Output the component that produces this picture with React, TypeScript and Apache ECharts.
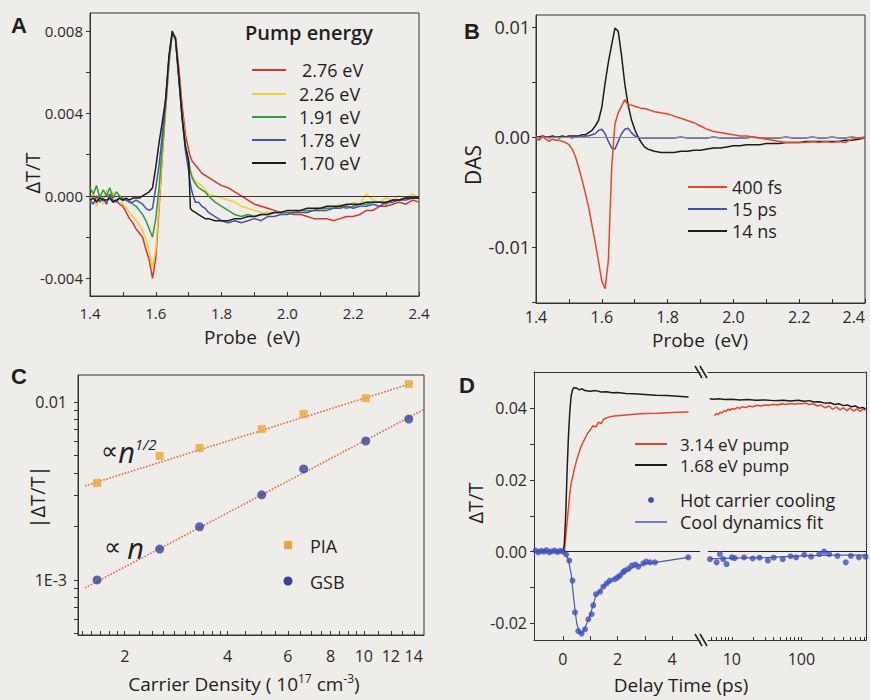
import React, { useEffect, useRef } from "react";
import * as echarts from "echarts";

const FONT = "'Open Sans', 'DejaVu Sans', sans-serif";
const AX = "#333";
const LBL = "#2a2a2a";

// ---------- Panel A ----------
const probeA = [1.40,1.41,1.42,1.43,1.44,1.45,1.46,1.47,1.48,1.49,1.50,1.51,1.52,1.53,1.54,1.55,1.56,1.57,1.58,1.59,1.60,1.61,1.62,1.63,1.64,1.65,1.66,1.67,1.68,1.69,1.70,1.705,1.71,1.72,1.73,1.74,1.75,1.76,1.78,1.80,1.82,1.84,1.86,1.88,1.90,1.92,1.94,1.96,1.98,2.00,2.02,2.04,2.06,2.08,2.10,2.12,2.14,2.16,2.18,2.20,2.22,2.24,2.26,2.28,2.30,2.32,2.34,2.36,2.38,2.40];
const pump276 = [-0.0002,0.0001,-0.0003,0.0000,-0.0002,0.0001,-0.0001,-0.0003,-0.0002,-0.0004,-0.0005,-0.0008,-0.0011,-0.0013,-0.0016,-0.0018,-0.0020,-0.0026,-0.0031,-0.0040,-0.0030,-0.0006,0.0020,0.0042,0.0064,0.0079,0.0077,0.0062,0.0044,0.0030,0.0022,0.0019,0.0017,0.0015,0.0013,0.0011,0.0010,0.0009,0.0007,0.0005,0.0004,0.0002,0.0000,-0.0002,-0.0004,-0.0005,-0.0006,-0.0007,-0.0008,-0.0008,-0.0009,-0.0009,-0.0010,-0.0011,-0.0011,-0.0011,-0.0012,-0.0011,-0.0010,-0.0010,-0.0009,-0.0007,-0.0007,-0.0005,-0.0005,-0.0004,-0.0003,-0.0004,-0.0002,-0.0003];
const pump226 = [-0.0003,0.0002,-0.0005,0.0001,-0.0004,0.0003,-0.0002,0.0002,-0.0003,0.0000,-0.0004,-0.0006,-0.0008,-0.0010,-0.0012,-0.0014,-0.0017,-0.0021,-0.0027,-0.0035,-0.0026,-0.0004,0.0022,0.0043,0.0065,0.0079,0.0076,0.0058,0.0040,0.0026,0.0017,0.0013,0.0010,0.0007,0.0006,0.0005,0.0003,0.0001,0.0000,-0.0001,-0.0002,-0.0003,-0.0005,-0.0006,-0.0007,-0.0008,-0.0008,-0.0008,-0.0008,-0.0008,-0.0008,-0.0007,-0.0008,-0.0007,-0.0007,-0.0006,-0.0006,-0.0004,-0.0005,-0.0003,-0.0004,0.0001,-0.0002,-0.0003,-0.0001,-0.0002,0.0000,-0.0001,0.0001,-0.0001];
const pump191 = [0.0004,0.0001,0.0005,-0.0001,0.0003,0.0000,0.0004,-0.0001,0.0002,0.0000,-0.0001,-0.0002,-0.0003,-0.0004,-0.0005,-0.0007,-0.0009,-0.0012,-0.0016,-0.0020,-0.0011,0.0004,0.0025,0.0044,0.0066,0.0079,0.0076,0.0057,0.0038,0.0024,0.0016,0.0012,0.0009,0.0006,0.0004,0.0003,0.0002,0.0000,-0.0003,-0.0005,-0.0007,-0.0009,-0.0010,-0.0009,-0.0010,-0.0009,-0.0009,-0.0008,-0.0008,-0.0008,-0.0008,-0.0007,-0.0007,-0.0007,-0.0006,-0.0006,-0.0006,-0.0005,-0.0006,-0.0005,-0.0004,-0.0004,-0.0003,-0.0003,-0.0004,-0.0002,-0.0002,-0.0001,-0.0001,-0.0001];
const pump178 = [-0.0002,-0.0004,0.0000,-0.0003,-0.0001,-0.0004,0.0001,-0.0002,-0.0003,-0.0001,-0.0002,-0.0002,-0.0003,-0.0003,-0.0002,-0.0003,-0.0004,-0.0006,-0.0007,-0.0006,0.0004,0.0015,0.0030,0.0047,0.0067,0.0079,0.0076,0.0057,0.0038,0.0022,0.0012,0.0006,0.0002,-0.0003,-0.0003,-0.0005,-0.0006,-0.0008,-0.0010,-0.0012,-0.0013,-0.0012,-0.0013,-0.0012,-0.0011,-0.0012,-0.0010,-0.0010,-0.0009,-0.0009,-0.0008,-0.0008,-0.0008,-0.0007,-0.0007,-0.0007,-0.0006,-0.0006,-0.0005,-0.0006,-0.0005,-0.0005,-0.0004,-0.0005,-0.0003,-0.0003,-0.0002,-0.0002,-0.0001,-0.0001];
const pump170 = [-0.0002,-0.0001,-0.0003,-0.0001,-0.0002,-0.0002,-0.0001,-0.0003,-0.0002,-0.0001,-0.0002,-0.0001,-0.0002,-0.0001,-0.0001,-0.0001,0.0000,0.0001,0.0002,0.0004,0.0014,0.0026,0.0036,0.0047,0.0068,0.0080,0.0076,0.0058,0.0038,0.0024,0.0017,-0.0006,-0.0007,-0.0008,-0.0009,-0.0010,-0.0011,-0.0011,-0.0012,-0.0012,-0.0012,-0.0011,-0.0011,-0.0010,-0.0010,-0.0009,-0.0009,-0.0008,-0.0008,-0.0007,-0.0007,-0.0007,-0.0006,-0.0006,-0.0006,-0.0005,-0.0005,-0.0005,-0.0004,-0.0004,-0.0004,-0.0003,-0.0003,-0.0003,-0.0003,-0.0002,-0.0002,-0.0001,-0.0001,-0.0001];
const pumpNames = ["2.76 eV", "2.26 eV", "1.91 eV", "1.78 eV", "1.70 eV"];
const pumpColors = ["#e3302a", "#f2cf2e", "#2f9a3e", "#4552b4", "#1c1c1c"];

// ---------- Panel B ----------
const probeB = [1.40,1.41,1.42,1.43,1.44,1.45,1.46,1.47,1.48,1.49,1.50,1.51,1.52,1.53,1.54,1.55,1.56,1.57,1.58,1.59,1.60,1.61,1.62,1.63,1.64,1.65,1.66,1.67,1.68,1.69,1.70,1.71,1.72,1.73,1.74,1.75,1.76,1.78,1.80,1.82,1.84,1.86,1.88,1.90,1.92,1.94,1.96,1.98,2.00,2.02,2.04,2.06,2.08,2.10,2.12,2.14,2.16,2.18,2.20,2.22,2.24,2.26,2.28,2.30,2.32,2.34,2.36,2.38,2.40];
const das400fs = [-0.0001,-0.0003,0.0001,-0.0002,-0.0004,-0.0002,-0.0003,-0.0003,-0.0004,-0.0005,-0.0007,-0.0011,-0.0018,-0.0028,-0.0039,-0.0051,-0.0064,-0.0080,-0.0096,-0.0113,-0.0131,-0.0138,-0.0112,-0.0028,0.0012,0.0022,0.0028,0.0034,0.0029,0.0029,0.0028,0.0027,0.0026,0.0026,0.0025,0.0024,0.0023,0.0022,0.0021,0.0019,0.0017,0.0015,0.0013,0.0010,0.0007,0.0005,0.0004,0.0003,0.0002,0.0001,0.0001,0.0000,-0.0001,-0.0002,-0.0003,-0.0004,-0.0005,-0.0005,-0.0005,-0.0005,-0.0004,-0.0005,-0.0004,-0.0005,-0.0004,-0.0005,-0.0002,-0.0001,-0.0001];
const das15ps = [0.0000,-0.0001,0.0000,0.0000,-0.0001,0.0000,0.0000,-0.0001,0.0000,0.0000,0.0000,-0.0001,0.0000,0.0000,0.0000,0.0001,0.0001,0.0002,0.0003,0.0006,0.0007,0.0003,-0.0004,-0.0010,-0.0011,-0.0004,0.0003,0.0007,0.0008,0.0004,0.0001,0.0000,-0.0001,-0.0001,-0.0001,-0.0001,-0.0001,-0.0001,-0.0001,-0.0001,0.0000,-0.0001,-0.0001,-0.0001,-0.0001,0.0000,-0.0001,-0.0001,-0.0001,-0.0001,-0.0001,0.0000,-0.0001,-0.0001,-0.0001,-0.0001,0.0000,-0.0001,-0.0001,-0.0001,0.0000,-0.0001,-0.0001,0.0000,-0.0001,-0.0001,0.0000,-0.0001,0.0000];
const das14ns = [0.0000,0.0000,0.0001,0.0000,0.0000,0.0001,0.0000,0.0000,0.0001,0.0000,0.0001,0.0001,0.0001,0.0001,0.0002,0.0002,0.0004,0.0006,0.0010,0.0015,0.0027,0.0049,0.0068,0.0084,0.0099,0.0096,0.0074,0.0048,0.0029,0.0016,0.0007,0.0000,-0.0005,-0.0009,-0.0011,-0.0012,-0.0013,-0.0014,-0.0014,-0.0014,-0.0013,-0.0013,-0.0012,-0.0012,-0.0011,-0.0010,-0.0010,-0.0009,-0.0008,-0.0008,-0.0007,-0.0007,-0.0007,-0.0006,-0.0006,-0.0006,-0.0005,-0.0005,-0.0005,-0.0004,-0.0004,-0.0004,-0.0004,-0.0004,-0.0004,-0.0003,-0.0003,-0.0002,-0.0001];
const dasNames = ["400 fs", "15 ps", "14 ns"];
const dasColors = ["#e8452a", "#4150b0", "#1c1c1c"];

// ---------- Panel C ----------
const density = [1.66, 2.53, 3.31, 5.03, 6.67, 10.13, 13.54];
const piaValues = [0.00351, 0.00498, 0.00552, 0.00705, 0.00857, 0.01052, 0.01262];
const gsbValues = [0.00100, 0.00149, 0.00199, 0.00301, 0.00421, 0.00604, 0.00802];
const piaFitX = [1.53, 13.9];
const piaFitY = [0.00338, 0.0128];
const gsbFitX = [1.53, 14.9];
const gsbFitY = [0.000902, 0.00902];
const cXLabels = [2, 4, 6, 8, 10, 12, 14];
const cXTicks = [1.5,1.6,1.7,1.8,1.9,2,2.2,2.4,2.6,2.8,3,3.2,3.4,3.6,3.8,4,4.5,5,5.5,6,6.5,7,7.5,8,8.5,9,9.5,10,11,12,13,14];
const cYLabels = [0.001, 0.01];
const cYTicks = [0.0005,0.0006,0.0007,0.0008,0.0009,0.001,0.002,0.003,0.004,0.005,0.006,0.007,0.008,0.009,0.01];

// ---------- Panel D ----------
const tRedL = [-1.0,0.05,0.1,0.15,0.2,0.25,0.3,0.4,0.5,0.6,0.7,0.8,0.9,1.0,1.1,1.2,1.3,1.4,1.5,1.6,1.8,2.0,2.5,3.0,3.5,4.0,4.6];
const yRedL = [0,0,0.004,0.008,0.012,0.016,0.019,0.0225,0.0255,0.028,0.030,0.0315,0.033,0.034,0.0352,0.0348,0.0362,0.0358,0.0371,0.0374,0.0378,0.0380,0.0383,0.0386,0.0387,0.0389,0.0390];
const tRedR = [5.6,6.0,6.4,6.8,7.2,7.7,8.2,8.8,9.5,10,11,12,13,14,16,18,20,23,26,30,35,40,46,52,60,70,80,90,100,115,130,150,170,190,220,250,280,320,360,400,450,500,560,630,700,780,840];
const yRedR = [0.0380,0.0386,0.0383,0.0390,0.0387,0.0394,0.0391,0.0398,0.0395,0.0400,0.0398,0.0403,0.0400,0.0405,0.0403,0.0407,0.0405,0.0409,0.0407,0.0410,0.0409,0.0412,0.0410,0.0413,0.0411,0.0414,0.0412,0.0414,0.0413,0.0415,0.0411,0.0413,0.0407,0.0410,0.0402,0.0407,0.0398,0.0404,0.0396,0.0402,0.0394,0.0401,0.0393,0.0399,0.0392,0.0398,0.0395];
const tBlkL = [-1.0,0.0,0.05,0.1,0.15,0.2,0.25,0.3,0.35,0.4,0.5,0.6,0.7,0.8,1.0,1.2,1.4,1.6,1.8,2.0,2.3,2.6,3.0,3.4,3.8,4.2,4.6];
const yBlkL = [0,0,0.002,0.010,0.022,0.032,0.039,0.0435,0.0452,0.0458,0.0457,0.0452,0.0455,0.0450,0.0448,0.0450,0.0446,0.0447,0.0444,0.0445,0.0442,0.0441,0.0439,0.0437,0.0436,0.0434,0.0432];
const tBlkR = [4.8,5.5,6.5,8,10,13,17,22,30,40,55,70,90,110,130,150,180,220,260,300,350,400,460,520,600,680,760,840];
const yBlkR = [0.0427,0.0426,0.0427,0.0425,0.0426,0.0424,0.0425,0.0423,0.0424,0.0422,0.0423,0.0421,0.0423,0.0420,0.0422,0.0418,0.0419,0.0415,0.0416,0.0411,0.0413,0.0408,0.0410,0.0405,0.0407,0.0401,0.0403,0.0399];
const tDotL = [-1.0,-0.9,-0.8,-0.7,-0.6,-0.5,-0.4,-0.3,-0.2,-0.1,0.0,0.12,0.23,0.35,0.44,0.56,0.68,0.81,0.93,1.05,1.11,1.21,1.36,1.48,1.6,1.72,1.9,2.0,2.09,2.2,2.27,2.4,2.52,2.65,2.76,2.94,3.05,3.19,3.37,4.59];
const yDotL = [0.0003,-0.0002,0.0002,0.0,0.0004,-0.0002,0.0001,0.0003,-0.0001,0.0002,0.0,-0.0008,-0.0025,-0.0081,-0.017,-0.0222,-0.0229,-0.0217,-0.0189,-0.0175,-0.015,-0.0119,-0.0112,-0.0098,-0.0089,-0.0081,-0.0077,-0.0072,-0.0067,-0.0058,-0.0053,-0.0048,-0.0039,-0.0036,-0.0042,-0.0033,-0.0028,-0.003,-0.003,-0.0016];
const tDotR = [4.85,6.04,6.74,7.52,8.4,10,11,15,20,25,33,40,54,70,84,110,138,181,213,251,330,435,515,672,835];
const yDotR = [-0.0021,-0.003,-0.0007,-0.0021,-0.0035,-0.0016,-0.0018,-0.0016,-0.0019,-0.0017,-0.0025,-0.0017,-0.0021,-0.0013,-0.0016,-0.0009,-0.0014,-0.0007,0.0,-0.0007,-0.0012,-0.003,-0.0012,-0.0016,-0.0014];
const tFitL = [-1.0,0.0,0.1,0.2,0.3,0.4,0.5,0.6,0.7,0.8,0.9,1.0,1.2,1.4,1.6,1.8,2.0,2.3,2.6,3.0,3.4,4.6];
const yFitL = [0,0,-0.0006,-0.0022,-0.0062,-0.0135,-0.0198,-0.0226,-0.0228,-0.0215,-0.0195,-0.0176,-0.0125,-0.0104,-0.0089,-0.0079,-0.0071,-0.0056,-0.0043,-0.0034,-0.003,-0.0016];
const tFitR = [4.85,10,30,100,300,835];
const yFitR = [-0.002,-0.0018,-0.0017,-0.0012,-0.001,-0.001];
const dLeftLabels = [0, 2, 4];
const dLeftTicks = [0, 1, 2, 3, 4];
const dRightLabels = [10, 100];
const dRightTicks = [5,6,7,8,9,10,20,30,40,50,60,70,80,90,100,200,300,400,500,600,700,800];
const dYLabels = [-0.02, 0, 0.02, 0.04];
const dYTicks = [-0.02, -0.01, 0, 0.01, 0.02, 0.03, 0.04];
const D_RED = "#e8452c";
const D_BLK = "#1c1c1c";
const D_BLUE = "#3d4fbf";

// tick label arrays for A, B
const abXLabels = [1.4, 1.6, 1.8, 2.0, 2.2, 2.4];
const abXTicks = [1.4,1.5,1.6,1.7,1.8,1.9,2.0,2.1,2.2,2.3,2.4];
const aYLabels = [-0.004, 0, 0.004, 0.008];
const aYTicks = [-0.004, -0.002, 0, 0.002, 0.004, 0.006, 0.008];
const bYLabels = [-0.01, 0, 0.01];
const bYTicks = [-0.015, -0.01, -0.005, 0, 0.005, 0.01];

const zip = (xs: number[], ys: number[]) => xs.map((x, i) => [x, ys[i]]);

function label(size: number, margin: number, custom: number[], formatter: (v: number) => string, extra: any = {}) {
  return { show: true, customValues: custom, formatter, fontSize: size, lineHeight: size, color: LBL, fontFamily: FONT, margin, ...extra };
}
function tick(custom: number[], inside: boolean, length = 4) {
  return { show: true, customValues: custom, inside, length, lineStyle: { color: AX, width: 1 } };
}
const axisLine = { show: true, onZero: false, lineStyle: { color: AX, width: 1 } };

function text(t: string, x: number, y: number, size: number, extra: any = {}) {
  const { rotation, ...styleExtra } = extra;
  return {
    type: "text",
    x, y,
    rotation: rotation || 0,
    silent: true,
    style: {
      text: t, fontSize: size, lineHeight: size, fontFamily: FONT, fill: "#1f1f1f",
      align: "left", verticalAlign: "middle", textAlign: "left", textVerticalAlign: "middle",
      ...styleExtra,
    },
  };
}
function seg(x1: number, y1: number, x2: number, y2: number, color: string, w = 2) {
  return { type: "line", silent: true, shape: { x1, y1, x2, y2 }, style: { stroke: color, lineWidth: w } };
}

export default function App() {
  const ref = useRef<HTMLDivElement>(null);
  useEffect(() => {
    if (!ref.current) return;
    const chart = echarts.init(ref.current, null, { renderer: "svg" });
    const zeroLine = (color: string) => ({
      silent: true, symbol: "none", label: { show: false },
      lineStyle: { color, width: 1, type: "solid" },
      data: [{ yAxis: 0 }],
    });

    const aSeries = [pump276, pump226, pump191, pump178, pump170].map((ys, i) => ({
      type: "line", name: pumpNames[i], xAxisIndex: 0, yAxisIndex: 0,
      data: zip(probeA, ys), showSymbol: false, symbol: "none",
      lineStyle: { color: pumpColors[i], width: 1.5 }, itemStyle: { color: pumpColors[i] },
      z: 3 + i,
      ...(i === 0 ? { markLine: zeroLine("#333") } : {}),
    }));
    const bSeries = [das14ns, das15ps, das400fs].map((ys, k) => {
      const i = 2 - k;
      return {
        type: "line", name: dasNames[i], xAxisIndex: 1, yAxisIndex: 1,
        data: zip(probeB, ys), showSymbol: false, symbol: "none",
        lineStyle: { color: dasColors[i], width: 1.5 }, itemStyle: { color: dasColors[i] },
        z: 3 + k,
        ...(k === 0 ? { markLine: zeroLine("#8a8a8a") } : {}),
      };
    });
    const cSeries = [
      { type: "line", name: "PIA fit", xAxisIndex: 2, yAxisIndex: 2, data: zip(piaFitX, piaFitY), showSymbol: false, symbol: "none", lineStyle: { color: "#e8693e", width: 1.6, type: "dotted" }, z: 2 },
      { type: "line", name: "GSB fit", xAxisIndex: 2, yAxisIndex: 2, data: zip(gsbFitX, gsbFitY), showSymbol: false, symbol: "none", lineStyle: { color: "#e8693e", width: 1.6, type: "dotted" }, z: 2 },
      { type: "scatter", name: "PIA", xAxisIndex: 2, yAxisIndex: 2, data: zip(density, piaValues), symbol: "rect", symbolSize: 8, itemStyle: { color: "#f3a230" }, z: 4 },
      { type: "scatter", name: "GSB", xAxisIndex: 2, yAxisIndex: 2, data: zip(density, gsbValues), symbol: "circle", symbolSize: 9, itemStyle: { color: "#3b3e9c" }, z: 4 },
    ];
    const dLine = (name: string, xi: number, xs: number[], ys: number[], color: string, w: number, z: number, extra: any = {}) => ({
      type: "line", name, xAxisIndex: xi, yAxisIndex: xi, data: zip(xs, ys), showSymbol: false, symbol: "none",
      lineStyle: { color, width: w }, itemStyle: { color }, z, ...extra,
    });
    const dSeries = [
      dLine("3.14 eV pump", 3, tRedL, yRedL, D_RED, 1.5, 4, { markLine: zeroLine("#222") }),
      dLine("3.14 eV pump ", 4, tRedR, yRedR, D_RED, 1.5, 4, { markLine: zeroLine("#222") }),
      dLine("1.68 eV pump", 3, tBlkL, yBlkL, D_BLK, 1.5, 5),
      dLine("1.68 eV pump ", 4, tBlkR, yBlkR, D_BLK, 1.5, 5),
      dLine("Cool dynamics fit", 3, tFitL, yFitL, "#4a58b0", 1.2, 6),
      dLine("Cool dynamics fit ", 4, tFitR, yFitR, "#4a58b0", 1.2, 6),
      { type: "scatter", name: "Hot carrier cooling", xAxisIndex: 3, yAxisIndex: 3, data: zip(tDotL, yDotL), symbolSize: 6, itemStyle: { color: D_BLUE }, z: 7 },
      { type: "scatter", name: "Hot carrier cooling ", xAxisIndex: 4, yAxisIndex: 4, data: zip(tDotR, yDotR), symbolSize: 6, itemStyle: { color: D_BLUE }, z: 7 },
    ];

    const gridBox = { show: true, borderColor: AX, borderWidth: 1, backgroundColor: "transparent", outerBoundsMode: "none", containLabel: false };

    const graphics: any[] = [
      // panel letters
      text("A", 11, 25, 22, { fontWeight: "bold", fontFamily: "'Liberation Sans', sans-serif" }),
      text("B", 464, 31, 22, { fontWeight: "bold", fontFamily: "'Liberation Sans', sans-serif" }),
      text("C", 11, 376, 22, { fontWeight: "bold", fontFamily: "'Liberation Sans', sans-serif" }),
      text("D", 459, 385, 22, { fontWeight: "bold", fontFamily: "'Liberation Sans', sans-serif" }),
      // axis titles
      text("ΔT/T", 32, 173, 20, { rotation: Math.PI / 2, align: "center", textAlign: "center" }),
      text("Probe  (eV)", 252, 337, 19, { align: "center", textAlign: "center" }),
      text("DAS", 473, 165, 21, { rotation: Math.PI / 2, align: "center", textAlign: "center" }),
      text("Probe  (eV)", 700, 340, 19, { align: "center", textAlign: "center" }),
      text("|ΔT/T|", 37, 497, 20, { rotation: Math.PI / 2, align: "center", textAlign: "center" }),
      {
        type: "text", x: 244, y: 684, silent: true,
        style: {
          text: "Carrier Density ( 10{s|17} cm{s|-3})",
          fontSize: 19, fontFamily: FONT, fill: "#1f1f1f", lineHeight: 24,
          align: "center", verticalAlign: "middle", textAlign: "center", textVerticalAlign: "middle",
          rich: { s: { fontSize: 12, fontFamily: FONT, fill: "#1f1f1f", verticalAlign: "top", lineHeight: 12 } },
        },
      },
      text("ΔT/T", 475, 503, 20, { rotation: Math.PI / 2, align: "center", textAlign: "center" }),
      text("Delay Time (ps)", 681, 685, 19, { align: "center", textAlign: "center" }),
      // legend A
      text("Pump energy", 245, 32, 20, { fontWeight: 600 }),
      ...pumpNames.flatMap((n, i) => {
        const y = [70, 94, 117, 140, 163][i];
        return [seg(252, y, 286, y, pumpColors[i], 2), text(n, i === 0 ? 302 : 299, y, 18)];
      }),
      // legend B
      ...dasNames.flatMap((n, i) => {
        const y = [187, 209, 231][i];
        return [seg(688, y, 727, y, dasColors[i], 2), text(n, 732, y, 18)];
      }),
      // legend C
      { type: "rect", silent: true, shape: { x: 284, y: 541, width: 8, height: 8 }, style: { fill: "#f3a230" } },
      text("PIA", 310, 546, 18),
      { type: "circle", silent: true, shape: { cx: 288, cy: 581, r: 4.5 }, style: { fill: "#3b3e9c" } },
      text("GSB", 310, 582, 18),
      // annotations C
      {
        type: "text", x: 101, y: 451, silent: true,
        style: {
          text: "{p|∝}{n|n}{s|1/2}", fontSize: 22, fill: "#1f1f1f", lineHeight: 30,
          align: "left", verticalAlign: "middle", textAlign: "left", textVerticalAlign: "middle",
          rich: {
            p: { fontSize: 24, fontFamily: "'DejaVu Sans', sans-serif", fill: "#1f1f1f" },
            n: { fontSize: 29, fontStyle: "italic", fontFamily: FONT, fill: "#1f1f1f" },
            s: { fontSize: 15, fontStyle: "italic", fontFamily: FONT, fill: "#1f1f1f", verticalAlign: "top", lineHeight: 15 },
          },
        },
      },
      {
        type: "text", x: 104, y: 547, silent: true,
        style: {
          text: "{p|∝} {n|n}", fontSize: 22, fill: "#1f1f1f",
          align: "left", verticalAlign: "middle", textAlign: "left", textVerticalAlign: "middle",
          rich: {
            p: { fontSize: 24, fontFamily: "'DejaVu Sans', sans-serif", fill: "#1f1f1f" },
            n: { fontSize: 29, fontStyle: "italic", fontFamily: FONT, fill: "#1f1f1f" },
          },
        },
      },
      // legend D
      seg(635, 444, 667, 444, D_RED, 2), text("3.14 eV pump", 680, 444, 17),
      seg(635, 465, 667, 465, D_BLK, 2), text("1.68 eV pump", 680, 465, 17),
      { type: "circle", silent: true, shape: { cx: 651, cy: 500, r: 3 }, style: { fill: D_BLUE } },
      text("Hot carrier cooling", 680, 500, 18),
      seg(635, 522, 667, 522, "#4a58b0", 1.5), text("Cool dynamics fit", 680, 522, 18),
      // axis break marks
      seg(695, 366, 702, 378, "#222", 1.6), seg(700, 366, 707, 378, "#222", 1.6),
      seg(695, 634, 702, 646, "#222", 1.6), seg(700, 634, 707, 646, "#222", 1.6),
    ];

    const option: any = {
      animation: false,
      backgroundColor: "#eeede9",
      textStyle: { fontFamily: FONT },
      grid: [
        { left: 90, top: 13, width: 329, height: 283, ...gridBox },
        { left: 536, top: 15, width: 329, height: 288, ...gridBox },
        { left: 78, top: 375, width: 346, height: 260, ...gridBox },
        { left: 534, top: 372, width: 166, height: 268, show: false, outerBoundsMode: "none", containLabel: false },
        { left: 708, top: 372, width: 158, height: 268, show: false, outerBoundsMode: "none", containLabel: false },
      ],
      xAxis: [
        { gridIndex: 0, type: "value", min: 1.4, max: 2.4, splitLine: { show: false }, axisLine,
          axisTick: tick(abXTicks, true, 4), axisLabel: label(15, 9, abXLabels, (v: number) => v.toFixed(1)) },
        { gridIndex: 1, type: "value", min: 1.4, max: 2.4, splitLine: { show: false }, axisLine,
          axisTick: tick(abXTicks, true, 4), axisLabel: label(16, 6, abXLabels, (v: number) => v.toFixed(1), { alignMaxLabel: "right" }) },
        { gridIndex: 2, type: "log", logBase: 10, min: 1.46, max: 15, splitLine: { show: false }, axisLine,
          axisTick: tick(cXTicks, true, 4), axisLabel: label(16, 13, cXLabels, (v: number) => String(Math.round(v))) },
        { gridIndex: 3, type: "value", min: -1.06, max: 5.02, splitLine: { show: false }, axisLine,
          axisTick: tick(dLeftTicks, true, 4), axisLabel: label(16, 11, dLeftLabels, (v: number) => String(Math.round(v))) },
        { gridIndex: 4, type: "log", logBase: 10, min: 4.54, max: 850, splitLine: { show: false }, axisLine,
          axisTick: tick(dRightTicks, true, 3), axisLabel: label(16, 11, dRightLabels, (v: number) => String(Math.round(v))) },
        { gridIndex: 3, type: "value", position: "top", min: -1.06, max: 5.02, splitLine: { show: false }, axisLine,
          axisTick: { show: false }, axisLabel: { show: false } },
        { gridIndex: 4, type: "log", logBase: 10, position: "top", min: 4.54, max: 850, splitLine: { show: false }, axisLine,
          axisTick: { show: false }, axisLabel: { show: false } },
      ],
      yAxis: [
        { gridIndex: 0, type: "value", min: -0.00485, max: 0.00887, splitLine: { show: false }, axisLine,
          axisTick: tick(aYTicks, false, 4), axisLabel: label(15, 7, aYLabels, (v: number) => v.toFixed(3)) },
        { gridIndex: 1, type: "value", min: -0.01509, max: 0.01109, splitLine: { show: false }, axisLine,
          axisTick: tick(bYTicks, false, 4), axisLabel: label(18, 6, bYLabels, (v: number) => v.toFixed(2)) },
        { gridIndex: 2, type: "log", logBase: 10, min: 0.00049, max: 0.0142, splitLine: { show: false }, axisLine,
          axisTick: tick(cYTicks, false, 4), axisLabel: label(16, 11, cYLabels, (v: number) => (v < 0.005 ? "1E-3" : "0.01")) },
        { gridIndex: 3, type: "value", min: -0.0247, max: 0.0502, splitLine: { show: false }, axisLine,
          axisTick: tick(dYTicks, false, 4), axisLabel: label(16, 7, dYLabels, (v: number) => v.toFixed(2)) },
        { gridIndex: 4, type: "value", position: "right", min: -0.0247, max: 0.0502, splitLine: { show: false }, axisLine,
          axisTick: { show: false }, axisLabel: { show: false } },
      ],
      series: [...aSeries, ...bSeries, ...cSeries, ...dSeries],
      graphic: { elements: graphics },
    };
    chart.setOption(option);
    return () => chart.dispose();
  }, []);
  return <div ref={ref} style={{ position: "fixed", left: 0, top: 0, width: 870, height: 700 }} />;
}
